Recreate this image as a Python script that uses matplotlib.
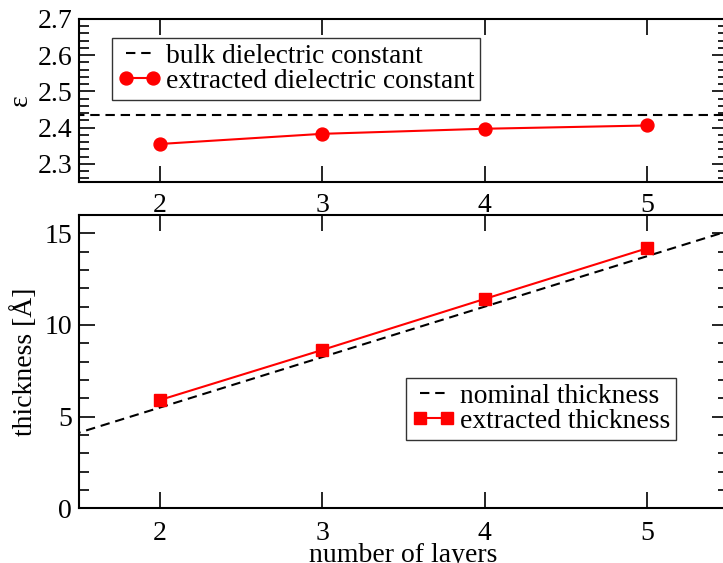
"""
Constante dielétrica e espessura extraídas vs número de camadas (estilo xmgrace).
"""
import matplotlib
matplotlib.use('Agg')
import matplotlib.pyplot as plt
from matplotlib.ticker import MultipleLocator

# dados
layers = [2, 3, 4, 5]
eps_extracted = [2.355, 2.383, 2.397, 2.406]
eps_bulk = 2.435

thick_extracted = [5.91, 8.64, 11.42, 14.18]
nominal_layers = [1, 2, 3, 4, 5, 6]
nominal_thick = [2.75, 5.5, 8.25, 11.0, 13.75, 16.5]

xticks = [2, 3, 4, 5]

plt.rcParams['font.family'] = ['Liberation Serif', 'DejaVu Serif']
plt.rcParams['mathtext.fontset'] = 'stix'

W, H = 723, 563
fig = plt.figure(figsize=(W / 100, H / 100), dpi=100)

def px_axes(left, top, right, bottom):
    return fig.add_axes([left / W, 1 - bottom / H, (right - left) / W, (bottom - top) / H])

ax1 = px_axes(79, 19, 728, 182)
ax2 = px_axes(79, 215, 728, 508.3)

red = '#ff0000'
dash = (4.5, 2.8)

# painel superior: epsilon
ax1.plot([0, 10], [eps_bulk, eps_bulk], color='black', lw=1.5, dashes=dash,
         label='bulk dielectric constant')
ax1.plot(layers, eps_extracted, color=red, lw=1.5, marker='o', markersize=9.3,
         label='extracted dielectric constant')
ax1.set_xlim(1.5, 5.5)
ax1.set_ylim(2.25, 2.7)
ax1.yaxis.set_major_locator(MultipleLocator(0.1))
ax1.yaxis.set_minor_locator(MultipleLocator(0.02))
ax1.set_ylabel('ε', fontsize=20)
ax1.yaxis.set_label_coords(-0.071, 0.5)

# painel inferior: espessura
ax2.plot(nominal_layers, nominal_thick, color='black', lw=1.5, dashes=dash,
         label='nominal thickness')
ax2.plot(layers, thick_extracted, color=red, lw=1.5, marker='s', markersize=8.8,
         label='extracted thickness')
ax2.set_xlim(1.5, 5.5)
ax2.set_ylim(0, 16)
ax2.yaxis.set_major_locator(MultipleLocator(5))
ax2.yaxis.set_minor_locator(MultipleLocator(1))
ax2.set_ylabel('thickness [Å]', fontsize=20)
ax2.yaxis.set_label_coords(-0.063, 0.5)
ax2.set_xlabel('number of layers', fontsize=20)
ax2.xaxis.set_label_coords(0.5, -0.119)

for ax, xpad in ((ax1, 8), (ax2, 9)):
    ax.set_xticks(xticks)
    ax.tick_params(which='both', direction='in', top=True, right=True, width=1.2,
                   labelsize=20)
    ax.tick_params(axis='x', pad=xpad)
    ax.tick_params(axis='y', pad=5)
    ax.tick_params(which='major', length=11.5)
    ax.tick_params(which='minor', length=7)
    for s in ax.spines.values():
        s.set_linewidth(1.5)

leg_kw = dict(loc='upper left', borderaxespad=0, fontsize=19.8, numpoints=2,
              handlelength=1.57, handletextpad=0.2, borderpad=0.2,
              labelspacing=0.0, fancybox=False, framealpha=1)
leg1 = ax1.legend(bbox_to_anchor=(0.051, 0.883), **leg_kw)
leg2 = ax2.legend(bbox_to_anchor=(0.504, 0.444), **leg_kw)
for leg in (leg1, leg2):
    leg.get_frame().set_edgecolor('#333333')
    leg.get_frame().set_linewidth(1.0)

fig.savefig('out.png', dpi=100)
